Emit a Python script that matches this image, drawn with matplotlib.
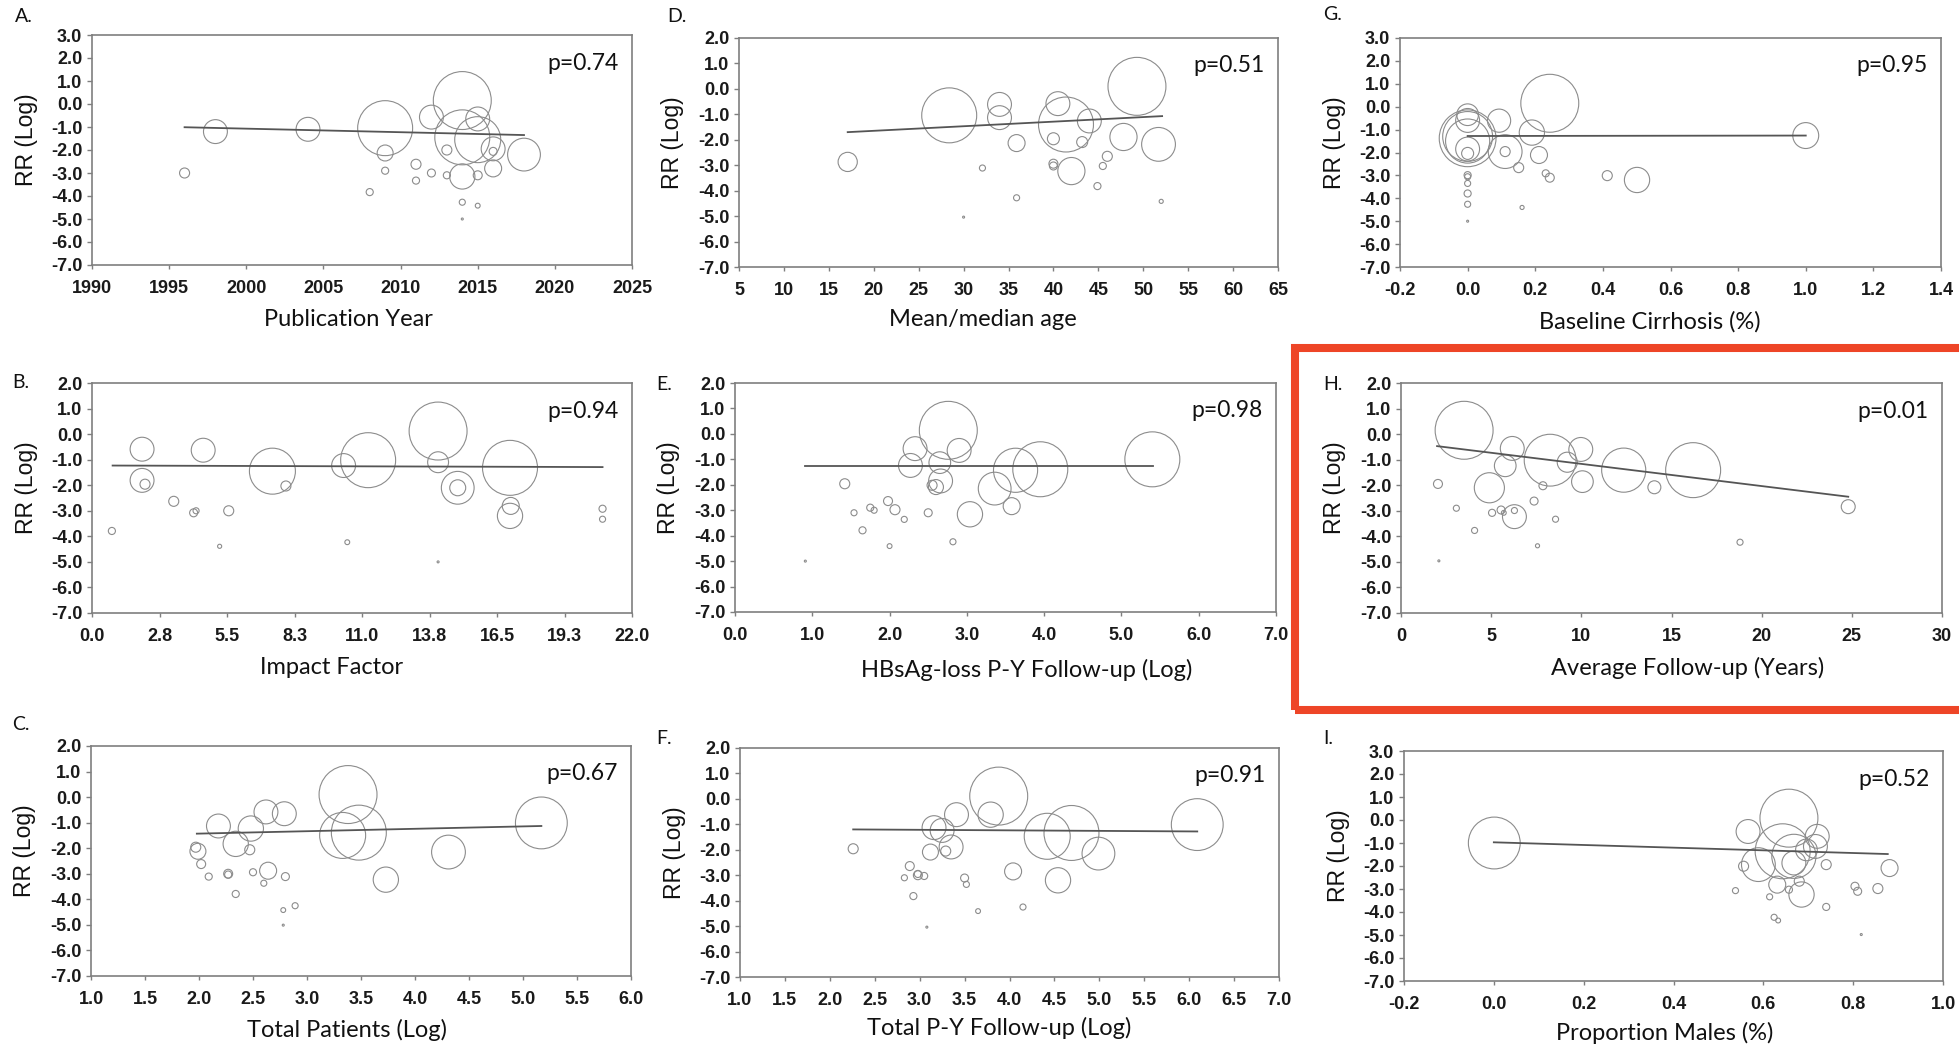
import numpy as np
import matplotlib
matplotlib.use("Agg")
import matplotlib.pyplot as plt
from matplotlib.patches import Rectangle

plt.rcParams['axes.unicode_minus'] = False

# ---------------- DATA ----------------
# A. Publication year
pub_year = [2014, 2009, 2014, 2015, 2012, 2015, 1998, 2004, 2016, 2018, 2016, 2014, 2009,
            2013, 2016, 2011, 2012, 2013, 2015, 2009, 2011, 1996, 2008, 2014, 2015, 2014]
rr_A = [0.15, -1.05, -1.45, -1.55, -0.57, -0.65, -1.2, -1.1, -1.95, -2.2, -2.8, -3.15, -2.13,
        -2.0, -2.06, -2.62, -3.0, -3.1, -3.1, -2.9, -3.33, -3.0, -3.83, -4.27, -4.42, -5.0]
w_A = [100, 90, 90, 63, 17, 17, 17, 17, 17, 32, 8.6, 19, 7.6,
       3.0, 1.9, 3.0, 1.9, 1.5, 2.4, 1.5, 1.5, 3.0, 1.5, 1.1, 0.7, 0.12]
fit_A_x = [1996, 2018]
fit_A_y = [-1.01, -1.35]

# D. Mean/median age
age = [49.3, 28.4, 41.4, 34.0, 34.0, 40.5, 44.0, 35.9, 40.0, 43.2, 47.8, 51.7, 17.1, 42.0,
       40.0, 40.0, 46.0, 45.5, 32.1, 44.9, 35.9, 52.0, 30.0]
rr_D = [0.1, -1.04, -1.4, -0.61, -1.13, -0.58, -1.26, -2.13, -1.96, -2.09, -1.89, -2.18, -2.87,
        -3.23, -2.94, -3.03, -2.65, -3.03, -3.11, -3.82, -4.28, -4.42, -5.04]
w_D = [100, 90, 90, 17, 17, 17, 17, 8.6, 4.3, 3.6, 22, 34, 11, 22,
       2.4, 1.9, 3.0, 1.5, 1.1, 1.5, 1.1, 0.5, 0.12]
fit_D_x = [17.1, 52.1]
fit_D_y = [-1.7, -1.07]

# G. Baseline cirrhosis
cirrhosis = [0.243, 0.0, 0.0, 0.0, 0.0, 0.0, 0.093, 0.19, 0.111, 0.111, 0.211, 0.151, 0.231,
             0.243, 0.413, 0.501, 1.0, 0.161, 0.0, 0.0, 0.0, 0.0, 0.0, 0.0, 0.0, 0.0]
rr_G = [0.15, -1.38, -1.3, -0.35, -0.6, -1.85, -0.61, -1.13, -1.96, -1.96, -2.11, -2.66, -2.91,
        -3.1, -3.01, -3.2, -1.26, -4.4, -2.04, -2.99, -3.06, -3.35, -3.79, -4.26, -5.0, -1.5]
w_G = [100, 96, 74, 14, 17, 17, 16, 19, 34, 3.0, 8.6, 3.0, 1.5,
       2.4, 3.0, 19, 20, 0.5, 4.3, 1.5, 1.1, 1.1, 1.5, 1.1, 0.12, 58]
fit_G_x = [0.0, 1.0]
fit_G_y = [-1.28, -1.26]

# B. Impact factor
impact = [14.1, 11.25, 7.35, 17.03, 2.04, 4.53, 2.04, 2.16, 10.25, 14.1, 14.9, 14.9, 7.9,
          17.06, 17.03, 3.33, 4.14, 4.24, 5.57, 0.81, 5.2, 10.4, 14.1, 20.8, 20.8]
rr_B = [0.12, -1.02, -1.45, -1.32, -0.59, -0.63, -1.81, -1.96, -1.23, -1.1, -2.1, -2.1, -2.03,
        -2.81, -3.2, -2.63, -3.08, -3.0, -3.0, -3.79, -4.39, -4.23, -5.0, -2.92, -3.33]
w_B = [100, 90, 63, 90, 17, 17, 17, 3.0, 17, 13, 32, 7.6, 3.0,
       8.6, 19, 3.0, 1.9, 1.1, 3.0, 1.5, 0.5, 0.7, 0.12, 1.5, 1.1]
fit_B_x = [0.84, 20.8]
fit_B_y = [-1.23, -1.29]

# E. HBsAg-loss P-Y follow-up (log)
hbs_py = [2.76, 5.4, 3.95, 3.63, 2.33, 2.9, 2.27, 2.65, 2.66, 3.36, 2.6, 2.55, 3.04, 3.58,
          1.42, 1.98, 2.07, 1.75, 1.8, 1.54, 2.5, 2.19, 1.65, 2.0, 2.82, 0.91]
rr_E = [0.14, -1.0, -1.39, -1.43, -0.58, -0.65, -1.24, -1.13, -1.85, -2.15, -2.09, -2.02, -3.16,
        -2.84, -1.96, -2.64, -2.98, -2.9, -3.0, -3.1, -3.1, -3.36, -3.79, -4.41, -4.24, -5.0]
w_E = [100, 90, 90, 58, 17, 17, 17, 14, 17, 32, 6.7, 3.0, 19, 8.6,
       3.0, 2.4, 3.0, 1.5, 1.1, 1.1, 1.9, 1.1, 1.5, 0.7, 1.1, 0.12]
fit_E_x = [0.91, 5.41]
fit_E_y = [-1.26, -1.26]

# H. Average follow-up (years)
follow_up = [3.5, 8.27, 16.2, 12.35, 9.97, 6.17, 5.78, 9.22, 10.06, 4.9, 14.05, 7.87, 2.05,
             3.07, 5.05, 5.55, 5.7, 6.29, 6.29, 7.38, 8.57, 4.08, 7.57, 18.8, 24.8, 2.1]
rr_H = [0.15, -1.02, -1.41, -1.41, -0.6, -0.56, -1.24, -1.1, -1.86, -2.1, -2.08, -2.02, -1.95,
        -2.9, -3.08, -2.97, -3.08, -3.23, -2.99, -2.62, -3.33, -3.77, -4.37, -4.23, -2.84, -4.96]
w_H = [100, 80, 90, 58, 17, 17, 14, 12, 14, 27, 5.0, 1.9, 2.4,
       1.1, 1.5, 1.9, 0.7, 17, 1.1, 1.9, 1.1, 1.1, 0.5, 1.1, 5.8, 0.12]
fit_H_x = [2.0, 24.8]
fit_H_y = [-0.47, -2.45]

# C. Total patients (log)
patients = [3.38, 5.17, 3.48, 3.33, 2.62, 2.79, 2.18, 2.48, 2.34, 4.31, 3.73, 2.64, 1.99,
            1.97, 2.47, 2.02, 2.27, 2.27, 2.09, 2.5, 2.8, 2.6, 2.34, 2.89, 2.78, 2.78]
rr_C = [0.1, -1.01, -1.39, -1.5, -0.58, -0.65, -1.13, -1.23, -1.83, -2.15, -3.23, -2.88, -2.12,
        -1.96, -2.06, -2.62, -3.0, -3.03, -3.11, -2.94, -3.11, -3.37, -3.79, -4.25, -4.42, -5.01]
w_C = [100, 80, 90, 63, 17, 17, 17, 19, 19, 34, 19, 8.6, 7.6,
       3.0, 3.0, 2.4, 2.4, 1.5, 1.5, 1.5, 1.9, 1.1, 1.5, 1.1, 0.7, 0.12]
fit_C_x = [1.98, 5.17]
fit_C_y = [-1.43, -1.13]

# F. Total P-Y follow-up (log)
total_py = [3.88, 6.09, 4.69, 4.42, 3.41, 3.79, 3.16, 3.25, 3.35, 4.99, 4.54, 4.04, 3.12,
            3.29, 2.26, 2.89, 2.98, 2.98, 3.05, 2.83, 3.5, 3.52, 2.93, 3.65, 4.15, 3.08]
rr_F = [0.11, -1.01, -1.34, -1.47, -0.62, -0.62, -1.13, -1.24, -1.89, -2.15, -3.2, -2.85, -2.09,
        -2.05, -1.96, -2.64, -3.0, -2.95, -3.03, -3.1, -3.11, -3.36, -3.82, -4.41, -4.25, -5.04]
w_F = [100, 80, 90, 63, 17, 19, 17, 17, 17, 32, 19, 8.6, 7.6,
       3.0, 3.0, 2.4, 2.4, 1.5, 1.5, 1.1, 1.9, 1.1, 1.5, 0.7, 1.1, 0.12]
fit_F_x = [2.26, 6.09]
fit_F_y = [-1.2, -1.28]

# I. Proportion males
males = [0.657, 0.001, 0.643, 0.668, 0.566, 0.72, 0.716, 0.696, 0.668, 0.589, 0.685, 0.631,
         0.556, 0.74, 0.68, 0.657, 0.538, 0.614, 0.804, 0.81, 0.855, 0.881, 0.74, 0.624, 0.633, 0.818]
rr_I = [0.08, -1.0, -1.36, -1.58, -0.5, -0.71, -1.15, -1.3, -1.87, -1.94, -3.24, -2.81,
        -2.01, -1.94, -2.66, -3.03, -3.07, -3.34, -2.88, -3.1, -2.98, -2.09, -3.78, -4.23, -4.37, -4.98]
w_I = [100, 80, 90, 58, 17, 17, 17, 14, 17, 34, 19, 8.6,
       3.0, 3.0, 3.0, 1.5, 1.1, 1.1, 1.9, 1.9, 3.0, 8.6, 1.5, 1.1, 0.7, 0.12]
fit_I_x = [0.0, 0.877]
fit_I_y = [-0.97, -1.48]

p_values = {'A': 'p=0.74', 'B': 'p=0.94', 'C': 'p=0.67', 'D': 'p=0.51', 'E': 'p=0.98',
            'F': 'p=0.91', 'G': 'p=0.95', 'H': 'p=0.01', 'I': 'p=0.52'}

ticks_A = [1990, 1995, 2000, 2005, 2010, 2015, 2020, 2025]
labels_A = [str(t) for t in ticks_A]
ticks_D = list(range(5, 66, 5))
labels_D = [str(t) for t in ticks_D]
ticks_G = [-0.2, 0.0, 0.2, 0.4, 0.6, 0.8, 1.0, 1.2, 1.4]
labels_G = ['-0.2', '0.0', '0.2', '0.4', '0.6', '0.8', '1.0', '1.2', '1.4']
ticks_B = [0, 2.75, 5.5, 8.25, 11, 13.75, 16.5, 19.25, 22]
labels_B = ['0.0', '2.8', '5.5', '8.3', '11.0', '13.8', '16.5', '19.3', '22.0']
ticks_E = [0, 1, 2, 3, 4, 5, 6, 7]
labels_E = ['0.0', '1.0', '2.0', '3.0', '4.0', '5.0', '6.0', '7.0']
ticks_H = [0, 5, 10, 15, 20, 25, 30]
labels_H = [str(t) for t in ticks_H]
ticks_C = [1.0, 1.5, 2.0, 2.5, 3.0, 3.5, 4.0, 4.5, 5.0, 5.5, 6.0]
labels_C = ['%.1f' % t for t in ticks_C]
ticks_F = [1.0, 1.5, 2.0, 2.5, 3.0, 3.5, 4.0, 4.5, 5.0, 5.5, 6.0, 6.5, 7.0]
labels_F = ['%.1f' % t for t in ticks_F]
ticks_I = [-0.2, 0.0, 0.2, 0.4, 0.6, 0.8, 1.0]
labels_I = ['-0.2', '0.0', '0.2', '0.4', '0.6', '0.8', '1.0']

# ---------------- FIGURE ----------------
W, H = 1959, 1048
fig = plt.figure(figsize=(W / 100, H / 100), dpi=100)

SIZE_PER_WEIGHT = 17.4
TICK_FONT = dict(family='Liberation Sans', weight='bold', size=13)
TEXT_FAMILY = ['Lato', 'DejaVu Sans']
BUBBLE_COLOR = '#8c8c8c'
FRAME_COLOR = '#7f7f7f'

panels = [
    ('A', (92, 35, 632, 265), (15, 17), pub_year, rr_A, w_A, fit_A_x, fit_A_y, (1990, 2025), 3,
     ticks_A, labels_A, 'Publication Year', 0.474, 55),
    ('D', (739, 38, 1278, 267), (667, 17), age, rr_D, w_D, fit_D_x, fit_D_y, (5, 65), 2,
     ticks_D, labels_D, 'Mean/median age', 0.453, 53),
    ('G', (1400, 38, 1941, 267), (1323, 15), cirrhosis, rr_G, w_G, fit_G_x, fit_G_y, (-0.2, 1.4), 3,
     ticks_G, labels_G, 'Baseline Cirrhosis (%)', 0.462, 55),
    ('B', (92, 383, 632, 613), (12, 383), impact, rr_B, w_B, fit_B_x, fit_B_y, (0, 22), 2,
     ticks_B, labels_B, 'Impact Factor', 0.444, 55),
    ('E', (735, 383, 1276, 612), (656, 385), hbs_py, rr_E, w_E, fit_E_x, fit_E_y, (0, 7), 2,
     ticks_E, labels_E, 'HBsAg-loss P-Y Follow-up (Log)', 0.54, 58),
    ('H', (1401, 383, 1942, 613), (1323, 385), follow_up, rr_H, w_H, fit_H_x, fit_H_y, (0, 30), 2,
     ticks_H, labels_H, 'Average Follow-up (Years)', 0.529, 55),
    ('C', (91, 746, 631, 976), (12, 725), patients, rr_C, w_C, fit_C_x, fit_C_y, (1.0, 6.0), 2,
     ticks_C, labels_C, 'Total Patients (Log)', 0.474, 54),
    ('F', (740, 748, 1279, 977), (656, 739), total_py, rr_F, w_F, fit_F_x, fit_F_y, (1.0, 7.0), 2,
     ticks_F, labels_F, 'Total P-Y Follow-up (Log)', 0.481, 51),
    ('I', (1404, 751, 1943, 981), (1323, 738), males, rr_I, w_I, fit_I_x, fit_I_y, (-0.2, 1.0), 3,
     ticks_I, labels_I, 'Proportion Males (%)', 0.484, 52),
]

for (key, box, lpos, xs, ys, ws, fx, fy, xlim, ytop, xt, xtl, xlabel, xlx, xly) in panels:
    x0, y0, x1, y1 = box
    ax = fig.add_axes([x0 / W, 1 - y1 / H, (x1 - x0) / W, (y1 - y0) / H])
    ax.scatter(xs, ys, s=np.array(ws) * SIZE_PER_WEIGHT, facecolors='none',
               edgecolors=BUBBLE_COLOR, linewidths=0.8, zorder=2, clip_on=False)
    ax.plot(fx, fy, color='#555555', lw=1.3, zorder=3)
    ax.set_xlim(*xlim)
    ax.set_ylim(-7, ytop)
    yt = list(range(-7, ytop + 1))
    ax.set_yticks(yt)
    ax.set_yticklabels(['%.1f' % v for v in yt], fontdict=TICK_FONT)
    ax.set_xticks(xt)
    ax.set_xticklabels(xtl, fontdict=TICK_FONT)
    ax.tick_params(axis='y', direction='out', length=3.5, width=1, color=FRAME_COLOR,
                   pad=3.5, labelcolor='#1a1a1a')
    ax.tick_params(axis='x', direction='out', length=3, width=1, color=FRAME_COLOR,
                   pad=7.5, labelcolor='#1a1a1a')
    for sp in ax.spines.values():
        sp.set_color(FRAME_COLOR)
        sp.set_linewidth(1.2)
    ax.set_ylabel('RR (Log)', family='Liberation Sans', fontsize=16.5, color='#111111')
    ax.yaxis.label.set_va('center')
    ax.yaxis.set_label_coords(-66 / (x1 - x0), 0.545)
    ax.set_xlabel(xlabel, family=TEXT_FAMILY, fontsize=17, color='#111111')
    ax.xaxis.label.set_va('center')
    ax.xaxis.set_label_coords(xlx, -xly / (y1 - y0))
    ax.text(0.843, 0.85, p_values[key], transform=ax.transAxes, ha='left', va='baseline',
            family=TEXT_FAMILY, fontsize=16.5, color='#111111')
    fig.text(lpos[0] / W, 1 - lpos[1] / H, key + '.', ha='left', va='center',
             family=TEXT_FAMILY, fontsize=14, color='#111111')

# red highlight box around panel H
rx0, ry0, rx1, ry1 = 1295, 348.5, 1966, 709.5
fig.patches.append(Rectangle((rx0 / W, 1 - ry1 / H), (rx1 - rx0) / W, (ry1 - ry0) / H,
                             transform=fig.transFigure, fill=False, edgecolor='#ee4527',
                             linewidth=5.8, clip_on=False, zorder=10))

fig.savefig('out.png', dpi=100)
